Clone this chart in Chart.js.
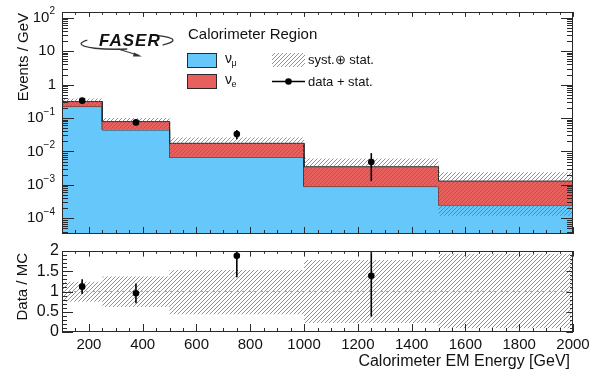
<!DOCTYPE html>
<html><head><meta charset="utf-8">
<script src="https://cdn.jsdelivr.net/npm/chart.js@4.4.1/dist/chart.umd.min.js"></script>
<style>
html,body{margin:0;padding:0;background:#fff;}
#wrap{position:relative;width:592px;height:372px;overflow:hidden;}
.pane{position:absolute;left:0;}
</style></head><body>
<div id="wrap">
<div class="pane" style="top:0;width:592px;height:240px"><canvas id="c1" width="592" height="240"></canvas></div>
<div class="pane" style="top:240px;width:592px;height:132px"><canvas id="c2" width="592" height="132"></canvas></div>
</div>
<script>
// ---------------- data ----------------
const binEdges   = [100, 250, 500, 1000, 1500, 2000];
const binCenters = [175, 375, 750, 1250];
// stacked MC (Events / GeV)
const numu = [0.22, 0.044, 0.0067, 0.00089, 0.00025];
const nue  = [0.09, 0.034, 0.0108, 0.0026, 0.00105];
// syst (+) stat band on the MC total
const systUp = [0.385, 0.10, 0.026, 0.0062, 0.0024];
const systLo = [0.23, 0.048, 0.0072, 0.0009, 0.00012];
// data + stat
const dataY  = [0.33, 0.074, 0.033, 0.0048];
const dataLo = [0.285, 0.062, 0.023, 0.0013];
const dataHi = [0.38, 0.088, 0.044, 0.0089];
// ratio panel
const ratioBandUp = [1.24, 1.37, 1.53, 1.78, 1.93];
const ratioBandLo = [0.75, 0.62, 0.44, 0.22, 0.09];
const ratioY  = [1.12, 0.955, 1.88, 1.39];
const ratioLo = [0.94, 0.71, 1.35, 0.38];
const ratioHi = [1.30, 1.20, 2.40, 2.50];
// tick labels
const xTickLabels = [200, 400, 600, 800, 1000, 1200, 1400, 1600, 1800, 2000];
const yTickExps = [-4, -3, -2, -1, 0, 1, 2];
const ratioTickLabels = [0, 0.5, 1, 1.5, 2];
const legendLabels = ['Calorimeter Region', 'ν', 'μ', 'ν', 'e', 'syst.⊕ stat.', 'data + stat.'];

// ---------------- helpers ----------------
const FONT = '"Liberation Sans", Arial, Helvetica, sans-serif';
const BLUE = '#66c8fa', RED = '#e8605e', EDGE = '#2a2a2a';
function steps(vals){ const p=[]; vals.forEach((v,i)=>{p.push({x:binEdges[i],y:v});p.push({x:binEdges[i+1],y:v});}); return p; }
function hatchPattern(ctx){
  const s=4, c=document.createElement('canvas'); c.width=c.height=s;
  const g=c.getContext('2d'); g.strokeStyle='rgba(105,105,105,0.72)'; g.lineWidth=1;
  g.beginPath(); g.moveTo(0,s); g.lineTo(s,0); g.moveTo(-1,1); g.lineTo(1,-1); g.moveTo(s-1,s+1); g.lineTo(s+1,s-1); g.stroke();
  return ctx.createPattern(c,'repeat');
}
const ctx1 = document.getElementById('c1').getContext('2d');
const ctx2 = document.getElementById('c2').getContext('2d');
const hatch1 = hatchPattern(ctx1), hatch2 = hatchPattern(ctx2);

function drawFrameAndXTicks(chart, majLen, minLen){
  const {ctx, chartArea:a, scales:{x}} = chart;
  ctx.save();
  ctx.strokeStyle = EDGE; ctx.lineWidth = 1;
  ctx.strokeRect(Math.round(a.left)+0.5, Math.round(a.top)+0.5, Math.round(a.right-a.left)-1, Math.round(a.bottom-a.top)-1);
  ctx.beginPath();
  for(let v=100; v<=2000; v+=50){
    const px = Math.round(x.getPixelForValue(v))+0.5;
    const L = (xTickLabels.includes(v)) ? majLen : minLen;
    ctx.moveTo(px, a.bottom); ctx.lineTo(px, a.bottom-L);
    ctx.moveTo(px, a.top); ctx.lineTo(px, a.top+L*0.7);
  }
  ctx.stroke();
  ctx.restore();
}
function errBars(chart, xs, lo, hi){
  const {ctx, chartArea:a, scales:{x,y}} = chart;
  ctx.save(); ctx.beginPath(); ctx.rect(a.left,a.top,a.right-a.left,a.bottom-a.top); ctx.clip();
  ctx.strokeStyle='#000'; ctx.lineWidth=1.6;
  xs.forEach((xv,i)=>{ const px=x.getPixelForValue(xv);
    ctx.beginPath(); ctx.moveTo(px,y.getPixelForValue(lo[i])); ctx.lineTo(px,y.getPixelForValue(hi[i])); ctx.stroke(); });
  ctx.restore();
}

// ---------------- top panel ----------------
const topPlugin = {
  id:'topDeco',
  afterDatasetsDraw(chart){ errBars(chart, binCenters, dataLo, dataHi); },
  afterDraw(chart){
    const {ctx, chartArea:a, scales:{y}} = chart;
    drawFrameAndXTicks(chart, 7, 4);
    ctx.save();
    ctx.strokeStyle=EDGE; ctx.lineWidth=1; ctx.beginPath();
    for(let e=-5;e<=2;e++) for(let m=1;m<=9;m++){
      const v=m*Math.pow(10,e); if(v<y.min||v>y.max) continue;
      const py=Math.round(y.getPixelForValue(v))+0.5; const L = m===1?12:6;
      ctx.moveTo(a.left,py); ctx.lineTo(a.left+L,py);
      ctx.moveTo(a.right,py); ctx.lineTo(a.right-L,py);
    }
    ctx.stroke();
    // y tick labels
    ctx.fillStyle='#111'; ctx.textBaseline='middle';
    yTickExps.forEach(e=>{
      const py=y.getPixelForValue(Math.pow(10,e));
      const base = e===0?'1':'10';
      const sup = (e===0||e===1)?'':(e<0?'\u2212'+(-e):String(e));
      ctx.font='15px '+FONT; const wb=ctx.measureText(base).width;
      ctx.font='10px '+FONT; const ws=sup?ctx.measureText(sup).width:0;
      const right = e===0?56:55;
      const x0 = right-wb-ws;
      ctx.font='15px '+FONT; ctx.textAlign='left'; ctx.fillText(base,x0,py);
      if(sup){ ctx.font='10px '+FONT; ctx.fillText(sup,x0+wb,py-6); }
    });
    // y title
    ctx.save(); ctx.translate(24,13); ctx.rotate(-Math.PI/2);
    ctx.font='15px '+FONT; ctx.textAlign='right'; ctx.textBaseline='middle'; ctx.fillText('Events / GeV',0,0);
    ctx.restore();
    // FASER logo
    ctx.save();
    ctx.strokeStyle='#333'; ctx.lineWidth=1.3;
    ctx.beginPath(); ctx.ellipse(127,42,46,7,-0.04,0.5*Math.PI,1.17*Math.PI); ctx.stroke();
    ctx.beginPath(); ctx.ellipse(127,42,46,7,-0.04,-0.33*Math.PI,0.22*Math.PI); ctx.stroke();
    ctx.beginPath(); ctx.moveTo(118,49); ctx.quadraticCurveTo(128,52,139,55.5); ctx.stroke();
    ctx.fillStyle='#333'; ctx.beginPath(); ctx.moveTo(142,56.5); ctx.lineTo(134,52.5); ctx.lineTo(133,56.5); ctx.closePath(); ctx.fill();
    ctx.fillStyle='#111'; ctx.font='italic bold 17px '+FONT; ctx.textAlign='left'; ctx.textBaseline='alphabetic';
    ctx.letterSpacing='1px';
    ctx.fillText('FASER',99,46);
    ctx.restore();
    // legend
    ctx.textAlign='left'; ctx.textBaseline='middle'; ctx.fillStyle='#111';
    ctx.font='15px '+FONT; ctx.fillText(legendLabels[0],188,35);
    ctx.lineWidth=1; ctx.strokeStyle=EDGE;
    ctx.fillStyle=BLUE; ctx.fillRect(187.5,53.5,29,14); ctx.strokeRect(187.5,53.5,29,14);
    ctx.fillStyle=RED; ctx.fillRect(187.5,74.5,29,14); ctx.strokeRect(187.5,74.5,29,14);
    ctx.fillStyle='#111';
    ctx.font='14px '+FONT; ctx.fillText(legendLabels[1],225,59);
    ctx.font='9px '+FONT; ctx.fillText(legendLabels[2],231.5,64);
    ctx.font='14px '+FONT; ctx.fillText(legendLabels[3],225,80);
    ctx.font='9px '+FONT; ctx.fillText(legendLabels[4],231.5,85);
    ctx.fillStyle=hatch1; ctx.fillRect(272,53,33,14);
    ctx.strokeStyle='#000'; ctx.lineWidth=1.3; ctx.beginPath(); ctx.moveTo(272,81.5); ctx.lineTo(305,81.5); ctx.stroke();
    ctx.fillStyle='#000'; ctx.beginPath(); ctx.arc(288.5,81.5,3.3,0,2*Math.PI); ctx.fill();
    ctx.fillStyle='#111'; ctx.font='13px '+FONT;
    ctx.fillText(legendLabels[5],308,60); ctx.fillText(legendLabels[6],308,82);
    ctx.restore();
  }
};

const total = numu.map((v,i)=>v+nue[i]);
new Chart(ctx1, {
  type:'line',
  data:{datasets:[
    {data:steps(numu), borderColor:EDGE, borderWidth:1, backgroundColor:BLUE, fill:'start', pointRadius:0, tension:0, order:4},
    {data:steps(total), borderColor:EDGE, borderWidth:1, backgroundColor:RED, fill:'-1', pointRadius:0, tension:0, order:3},
    {data:steps(systUp), borderWidth:0, borderColor:'rgba(0,0,0,0)', backgroundColor:hatch1, fill:false, pointRadius:0, tension:0, order:2},
    {data:steps(systLo), borderWidth:0, borderColor:'rgba(0,0,0,0)', backgroundColor:hatch1, fill:'-1', pointRadius:0, tension:0, order:2},
    {data:binCenters.map((x,i)=>({x, y:dataY[i]})), showLine:false, pointRadius:3.3, pointBackgroundColor:'#000', pointBorderColor:'#000', pointBorderWidth:0, order:0}
  ]},
  options:{
    responsive:false, devicePixelRatio:1, animation:false, events:[],
    layout:{padding:{left:0,right:19,top:12,bottom:0}},
    plugins:{legend:{display:false}, tooltip:{enabled:false}},
    scales:{
      x:{type:'linear', min:100, max:2000, grid:{display:false}, border:{display:false}, ticks:{display:false}, afterFit:s=>{s.height=6;}},
      y:{type:'logarithmic', min:3.4e-5, max:148, grid:{display:false}, border:{display:false}, ticks:{display:false}, afterFit:s=>{s.width=62;}}
    }
  },
  plugins:[topPlugin]
});

// ---------------- ratio panel ----------------
const botPlugin = {
  id:'botDeco',
  afterDatasetsDraw(chart){ errBars(chart, binCenters, ratioLo, ratioHi); },
  afterDraw(chart){
    const {ctx, chartArea:a, scales:{x,y}} = chart;
    drawFrameAndXTicks(chart, 8, 4);
    ctx.save();
    ctx.strokeStyle=EDGE; ctx.lineWidth=1; ctx.beginPath();
    for(let k=0;k<=20;k++){
      const v=k/10; const py=Math.round(y.getPixelForValue(v))+0.5;
      const L = (k%5===0)?11:5;
      ctx.moveTo(a.left,py); ctx.lineTo(a.left+L,py);
      ctx.moveTo(a.right,py); ctx.lineTo(a.right-L*0.6,py);
    }
    ctx.stroke();
    ctx.fillStyle='#111'; ctx.textBaseline='middle';
    ctx.font='16px '+FONT; ctx.textAlign='right';
    ratioTickLabels.forEach(v=>{ ctx.fillText(String(v),59,y.getPixelForValue(v)); });
    ctx.font='15px '+FONT; ctx.textAlign='center';
    xTickLabels.forEach(v=>{ ctx.fillText(String(v),x.getPixelForValue(v),105); });
    ctx.font='16px '+FONT; ctx.textAlign='right';
    ctx.fillText('Calorimeter EM Energy [GeV]',570,122);
    ctx.save(); ctx.translate(23,13); ctx.rotate(-Math.PI/2);
    ctx.font='15px '+FONT; ctx.textAlign='right'; ctx.fillText('Data / MC',0,0);
    ctx.restore();
    ctx.restore();
  }
};
new Chart(ctx2, {
  type:'line',
  data:{datasets:[
    {data:steps(ratioBandUp), borderWidth:0, borderColor:'rgba(0,0,0,0)', backgroundColor:hatch2, fill:false, pointRadius:0, tension:0, order:3},
    {data:steps(ratioBandLo), borderWidth:0, borderColor:'rgba(0,0,0,0)', backgroundColor:hatch2, fill:'-1', pointRadius:0, tension:0, order:3},
    {data:[{x:100,y:1},{x:2000,y:1}], borderColor:'#a8a8a8', borderWidth:1, borderDash:[3,3], fill:false, pointRadius:0, order:1},
    {data:binCenters.map((x,i)=>({x, y:ratioY[i]})), showLine:false, pointRadius:3.3, pointBackgroundColor:'#000', pointBorderColor:'#000', pointBorderWidth:0, order:0}
  ]},
  options:{
    responsive:false, devicePixelRatio:1, animation:false, events:[],
    layout:{padding:{left:0,right:19,top:11,bottom:0}},
    plugins:{legend:{display:false}, tooltip:{enabled:false}},
    scales:{
      x:{type:'linear', min:100, max:2000, grid:{display:false}, border:{display:false}, ticks:{display:false}, afterFit:s=>{s.height=40;}},
      y:{type:'linear', min:0, max:2, grid:{display:false}, border:{display:false}, ticks:{display:false}, afterFit:s=>{s.width=62;}}
    }
  },
  plugins:[botPlugin]
});
</script>
</body></html>
